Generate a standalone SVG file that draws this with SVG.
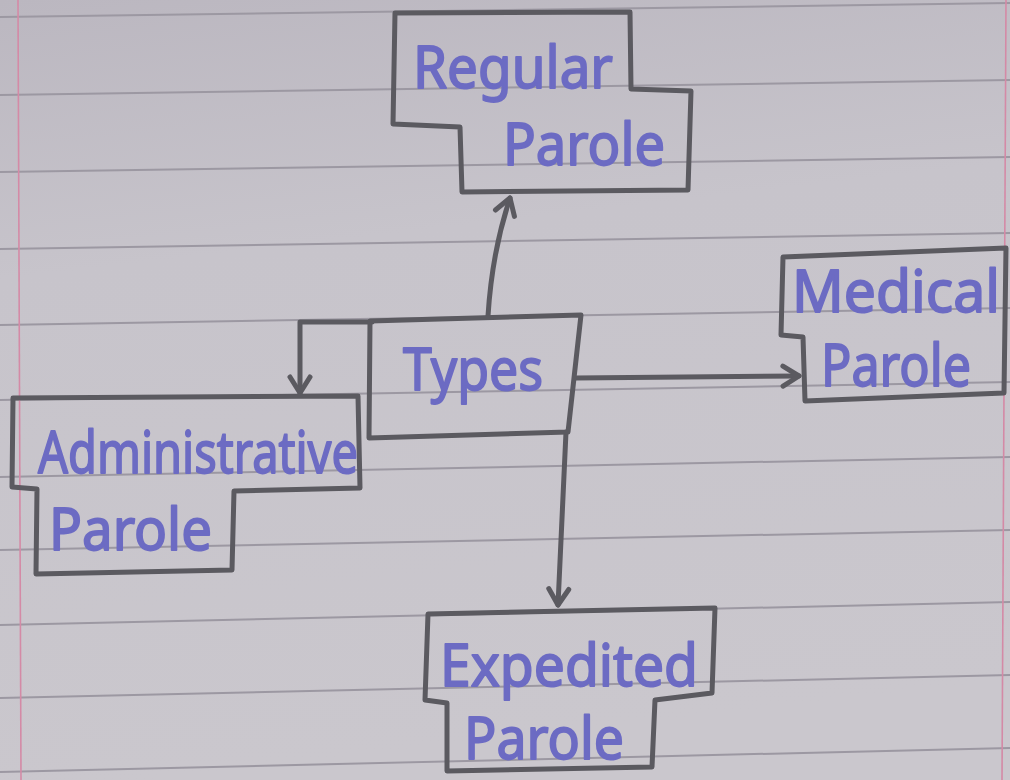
<svg xmlns="http://www.w3.org/2000/svg" width="1010" height="780" viewBox="0 0 1010 780">
  <defs>
    <linearGradient id="paper" x1="0" y1="0" x2="0.15" y2="1">
      <stop offset="0" stop-color="#bbb7c0"/>
      <stop offset="0.35" stop-color="#c7c4cb"/>
      <stop offset="1" stop-color="#cac7cd"/>
    </linearGradient>
    <marker id="vhead" markerUnits="userSpaceOnUse" viewBox="-20 -12 24 24" markerWidth="24" markerHeight="24" refX="0" refY="0" orient="auto" overflow="visible">
      <path d="M-16,-10 L0,0 L-16,10" fill="none" stroke="#5b5a60" stroke-width="5" stroke-linecap="round" stroke-linejoin="round"/>
    </marker>
    <style>
      .rule { stroke: #9c98a2; stroke-width: 2; fill: none; }
      .margin { stroke: #d48aa6; stroke-width: 1.6; fill: none; }
      .box { fill: none; stroke: #5b5a60; stroke-width: 5; stroke-linejoin: round; stroke-linecap: round; }
      .link { fill: none; stroke: #5b5a60; stroke-width: 5; stroke-linecap: round; stroke-linejoin: round; }
      .ink { font-family: "Noto Sans", "DejaVu Sans", sans-serif; font-size: 58px; fill: #6c6bc3; stroke: #6c6bc3; stroke-width: 1.8; stroke-linejoin: round; }
    </style>
  </defs>

  <!-- notebook paper -->
  <rect x="0" y="0" width="1010" height="780" fill="url(#paper)"/>
  <g id="paper-rules">
    <path class="rule" d="M0,17 L1010,3"/>
    <path class="rule" d="M0,95 L1010,80"/>
    <path class="rule" d="M0,172 L1010,157"/>
    <path class="rule" d="M0,249 L1010,233"/>
    <path class="rule" d="M0,325 L1010,308"/>
    <path class="rule" d="M0,400 L1010,382"/>
    <path class="rule" d="M0,477 L1010,457"/>
    <path class="rule" d="M0,550 L1010,530"/>
    <path class="rule" d="M0,625 L1010,602"/>
    <path class="rule" d="M0,698 L1010,675"/>
    <path class="rule" d="M0,772 L1010,748"/>
    <path class="margin" d="M18,0 L21,780"/>
    <path class="margin" d="M1006,0 L1002,780"/>
  </g>

  <!-- connectors -->
  <g id="connectors">
    <path class="link" d="M488,316 Q492,252 510,198" marker-end="url(#vhead)"/>
    <path class="link" d="M372,322 L300,322 L300,393" marker-end="url(#vhead)"/>
    <path class="link" d="M576,378 L799,376" marker-end="url(#vhead)"/>
    <path class="link" d="M566,432 L558,605" marker-end="url(#vhead)"/>
  </g>

  <!-- nodes -->
  <g id="node-regular">
    <path class="box" d="M395,13 L630,12 L631,89 L691,91 L688,190 L462,192 L460,127 L393,124 Z"/>
    <text class="ink" x="413" y="88" textLength="200" lengthAdjust="spacingAndGlyphs">Regular</text>
    <text class="ink" x="503" y="165" textLength="162" lengthAdjust="spacingAndGlyphs">Parole</text>
  </g>

  <g id="node-types">
    <path class="box" d="M370,321 L581,315 L568,432 L369,438 Z"/>
    <text class="ink" x="403" y="390" font-size="64" textLength="140" lengthAdjust="spacingAndGlyphs">Types</text>
  </g>

  <g id="node-administrative">
    <path class="box" d="M13,398 L358,396 L360,488 L234,491 L232,570 L36,574 L37,489 L12,487 Z"/>
    <text class="ink" x="38" y="473" textLength="320" lengthAdjust="spacingAndGlyphs">Administrative</text>
    <text class="ink" x="49" y="550" textLength="163" lengthAdjust="spacingAndGlyphs">Parole</text>
  </g>

  <g id="node-medical">
    <path class="box" d="M783,257 L1006,248 L1004,393 L805,401 L803,337 L781,335 Z"/>
    <text class="ink" x="792" y="312" font-size="54" textLength="208" lengthAdjust="spacingAndGlyphs">Medical</text>
    <text class="ink" x="821" y="386" font-size="54" textLength="150" lengthAdjust="spacingAndGlyphs">Parole</text>
  </g>

  <g id="node-expedited">
    <path class="box" d="M428,614 L715,608 L712,693 L655,700 L652,767 L447,771 L447,703 L425,700 Z"/>
    <text class="ink" x="440" y="686" textLength="258" lengthAdjust="spacingAndGlyphs">Expedited</text>
    <text class="ink" x="464" y="759" textLength="160" lengthAdjust="spacingAndGlyphs">Parole</text>
  </g>
</svg>
